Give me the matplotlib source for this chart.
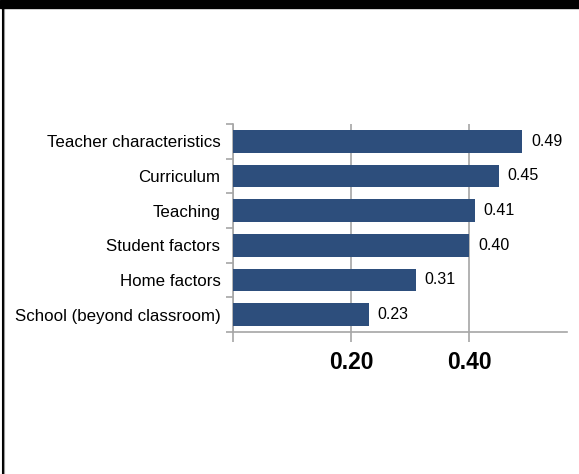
import matplotlib.pyplot as plt
from matplotlib.patches import Rectangle
from matplotlib.lines import Line2D
import numpy as np

# data (top to bottom)
categories = ["Teacher characteristics", "Curriculum", "Teaching",
              "Student factors", "Home factors", "School (beyond classroom)"]
values = [0.49, 0.45, 0.41, 0.40, 0.31, 0.23]
xticks = [0.20, 0.40]
xtick_labels = ["0.20", "0.40"]

bar_color = "#2D4E7C"
axis_color = "#A6A6A6"

plt.rcParams['font.family'] = ['Liberation Sans', 'DejaVu Sans']

fig = plt.figure(figsize=(5.79, 4.74), dpi=100)
ax = fig.add_axes([233 / 579, 1 - 332 / 474, (567 - 233) / 579, (332 - 124) / 474])

y = np.arange(len(categories))
ax.barh(y, values, height=0.66, color=bar_color, zorder=3)
for yi, v in zip(y, values):
    ax.text(v + 0.015, yi, f"{v:.2f}", va="center", ha="left", fontsize=11.5)

ax.set_ylim(len(categories) - 0.5, -0.5)
ax.set_xlim(0, 0.566)

# category labels
ax.set_yticks(y)
ax.set_yticklabels(categories, fontsize=12.2)
ax.tick_params(axis="y", which="major", length=0, pad=9)
ax.set_yticks(np.arange(-0.5, len(categories), 1), minor=True)
ax.tick_params(axis="y", which="minor", length=5, color=axis_color, width=1.2)

ax.set_xticks([0] + xticks)
ax.set_xticklabels([""] + xtick_labels, fontsize=16.5, fontweight="bold")
ax.tick_params(axis="x", length=7, color=axis_color, width=1.2, pad=7)

ax.grid(axis="x", color=axis_color, linewidth=1.2, zorder=0)
for s in ["top", "right"]:
    ax.spines[s].set_visible(False)
for s in ["left", "bottom"]:
    ax.spines[s].set_color(axis_color)
    ax.spines[s].set_linewidth(1.2)

# frame decorations: black top band and left border
fig.patches.append(Rectangle((0, 1 - 8 / 474), 1, 8 / 474, transform=fig.transFigure,
                             color="black", zorder=10))
fig.lines.append(Line2D([2.5 / 579, 2.5 / 579], [0, 1], transform=fig.transFigure,
                        color="black", linewidth=1.5))
fig.lines.append(Line2D([4 / 579, 4 / 579], [0, 1], transform=fig.transFigure,
                        color="#999999", linewidth=0.8))

fig.savefig("out.png", dpi=100)
